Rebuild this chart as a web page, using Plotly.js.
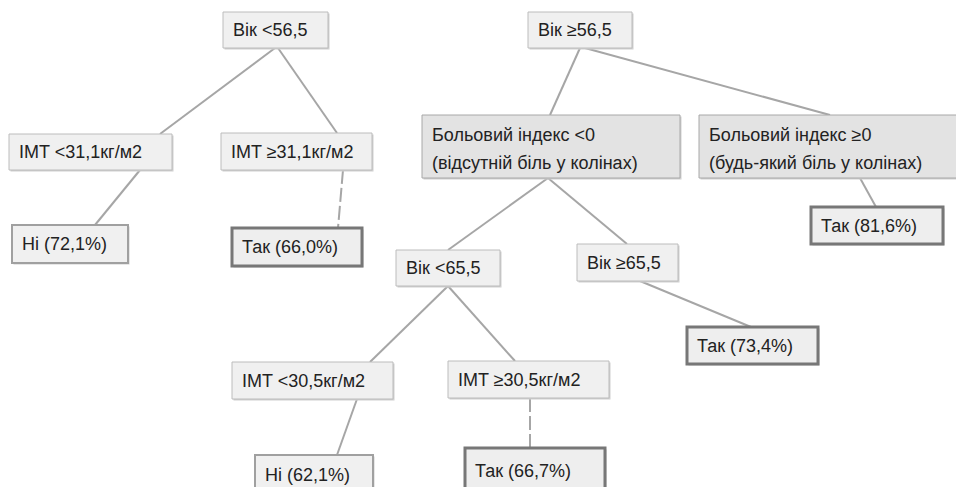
<!DOCTYPE html>
<html>
<head>
<meta charset="utf-8">
<script src="https://cdn.plot.ly/plotly-3.0.1.min.js"></script>
<style>html,body{margin:0;padding:0;background:#fff;}#chart{width:956px;height:487px;}</style>
</head>
<body>
<div id="chart"></div>
<script>
// ---- Data: decision tree nodes ----
const nodeIds = ['A','B','C','D','E','F','G','H','I','J','K','L','M','N','O','P'];
const nodeLabels = [
  'Вік <56,5',
  'Вік ≥56,5',
  'IMT <31,1кг/м2',
  'IMT ≥31,1кг/м2',
  'Ні (72,1%)',
  'Так (66,0%)',
  'Больовий індекс <0\n(відсутній біль у колінах)',
  'Больовий індекс ≥0\n(будь-який біль у колінах)',
  'Так (81,6%)',
  'Вік <65,5',
  'Вік ≥65,5',
  'Так (73,4%)',
  'IMT <30,5кг/м2',
  'IMT ≥30,5кг/м2',
  'Ні (62,1%)',
  'Так (66,7%)'
];
const nodeParents = [null, null, 'A','A','C','D','B','B','H','G','G','K','J','J','M','N'];
const nodeKinds = ['split','split','split','split','no','yes','split2','split2','yes','split','split','yes','split','split','no','yes'];
const edgeDashed = [false,false,false,false,false,true,false,false,false,false,false,false,false,false,false,true];

// ---- Layout (pixel geometry of the diagram, not data) ----
const boxGeom = {
  A:[223,12,328,48],  B:[528,12,632,48],
  C:[9,134,172,170],  D:[221,133,372,170],
  E:[12,225,128,263], F:[232,228,362,266],
  G:[422,115,680,178],H:[699,115,960,178],
  I:[811,207,943,244],J:[396,250,500,286],
  K:[577,244,678,281],L:[687,327,818,364],
  M:[232,362,393,399],N:[448,361,609,398],
  O:[255,455,373,495],P:[465,448,605,494]
};
// anchor x on the parent's bottom edge and on the child's top edge
const edgeAnchor = {
  C:[275,160], D:[278,337], E:[140,95], F:[343,338],
  G:[580,550], H:[585,830], I:[860,876],
  J:[548,448], K:[548,627], L:[640,751],
  M:[448,370], N:[448,515], O:[357,337], P:[530,530]
};

const styles = {
  split:  {fill:'#f0f0f0', line:'#bcbcbc', w:1},
  split2: {fill:'#e3e3e3', line:'#a8a8a8', w:1},
  no:     {fill:'#f0f0f0', line:'#a0a0a0', w:2},
  yes:    {fill:'#eeeeee', line:'#777777', w:3}
};
const textFont = {family:'"Liberation Sans", Arial, sans-serif', size:18, color:'#222222'};

const traces = [];
const shapes = [];
const annotations = [];

nodeIds.forEach((id, i) => {
  const p = nodeParents[i];
  if (p) {
    const pg = boxGeom[p], cg = boxGeom[id], a = edgeAnchor[id];
    traces.push({
      type:'scatter', mode:'lines', hoverinfo:'skip', showlegend:false,
      x:[a[0], a[1]], y:[pg[3], cg[1]],
      line:{color:'#a6a6a6', width:2, dash: edgeDashed[i] ? '14px,4px' : 'solid'}
    });
  }
});

nodeIds.forEach((id, i) => {
  const g = boxGeom[id], st = styles[nodeKinds[i]];
  shapes.push({type:'rect', xref:'x', yref:'y', layer:'above',
    x0:g[0]+1.5, y0:g[1]+1.5, x1:g[2]+1.5, y1:g[3]+1.5,
    fillcolor:'#cfcfcf', line:{width:0}});
  shapes.push({type:'rect', xref:'x', yref:'y', layer:'above',
    x0:g[0], y0:g[1], x1:g[2], y1:g[3],
    fillcolor:st.fill, line:{color:st.line, width:st.w}});
  const lines = nodeLabels[i].split('\n');
  const pad = 8;
  if (lines.length === 1) {
    annotations.push({x:g[0]+pad, y:(g[1]+g[3])/2, xref:'x', yref:'y', text:lines[0],
      xanchor:'left', yanchor:'middle', showarrow:false, font:textFont});
  } else {
    lines.forEach((t, k) => {
      annotations.push({x:g[0]+pad, y:g[1]+20+k*28, xref:'x', yref:'y', text:t,
        xanchor:'left', yanchor:'middle', showarrow:false, font:textFont});
    });
  }
});

const layout = {
  width:956, height:487,
  margin:{l:0, r:0, t:0, b:0},
  paper_bgcolor:'#ffffff', plot_bgcolor:'#ffffff',
  xaxis:{range:[0,956], visible:false, fixedrange:true},
  yaxis:{range:[487,0], visible:false, fixedrange:true},
  shapes:shapes, annotations:annotations, showlegend:false
};

Plotly.newPlot('chart', traces, layout, {staticPlot:true, displayModeBar:false});
</script>
</body>
</html>
